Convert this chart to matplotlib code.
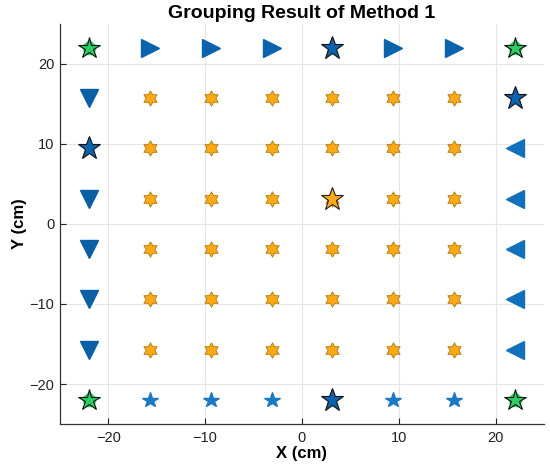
import numpy as np
import matplotlib
matplotlib.use("Agg")
import matplotlib.pyplot as plt
from matplotlib.path import Path

# ---- data ----
grid = [-22.0, -15.71, -9.43, -3.14, 3.14, 9.43, 15.71, 22.0]

corner_x = [-22.0, 22.0, -22.0, 22.0]
corner_y = [22.0, 22.0, -22.0, -22.0]

top_tri_x = [-15.71, -9.43, -3.14, 9.43, 15.71]
top_tri_y = [22.0, 22.0, 22.0, 22.0, 22.0]

left_tri_x = [-22.0, -22.0, -22.0, -22.0, -22.0]
left_tri_y = [15.71, 3.14, -3.14, -9.43, -15.71]

right_tri_x = [22.0, 22.0, 22.0, 22.0, 22.0]
right_tri_y = [9.43, 3.14, -3.14, -9.43, -15.71]

bottom_star_x = [-15.71, -9.43, -3.14, 9.43, 15.71]
bottom_star_y = [-22.0, -22.0, -22.0, -22.0, -22.0]

head_x = [3.14, -22.0, 22.0, 3.14]
head_y = [22.0, 9.43, 15.71, -22.0]

inner_vals = [-15.71, -9.43, -3.14, 3.14, 9.43, 15.71]
center_head_x = [3.14]
center_head_y = [3.14]

title = "Grouping Result of Method 1"
xlabel = "X (cm)"
ylabel = "Y (cm)"
xticks = [-20, -10, 0, 10, 20]
yticks = [-20, -10, 0, 10, 20]

# ---- hexagram marker ----
ang_out = np.deg2rad(90 + 60 * np.arange(6))
ang_in = ang_out + np.deg2rad(30)
r_in = 1 / np.sqrt(3)
verts = []
for ao, ai in zip(ang_out, ang_in):
    verts.append((np.cos(ao), np.sin(ao)))
    verts.append((r_in * np.cos(ai), r_in * np.sin(ai)))
verts.append(verts[0])
codes = [Path.MOVETO] + [Path.LINETO] * (len(verts) - 2) + [Path.CLOSEPOLY]
hexagram = Path(verts, codes)

plt.rcParams['font.family'] = ['Liberation Sans', 'DejaVu Sans']

fig = plt.figure(figsize=(5.5, 4.67), dpi=100)
ax = fig.add_axes([0.109, 0.092, 0.880, 0.857])

ax.set_xlim(-25, 25)
ax.set_ylim(-25, 25)
ax.grid(True, color='#e6e6e6', linewidth=0.8)
ax.set_axisbelow(True)

# interior hexagrams
ix, iy = np.meshgrid(inner_vals, inner_vals)
ax.plot(ix.ravel(), iy.ravel(), linestyle='none', marker=hexagram, markersize=11,
        markerfacecolor='#FDA914', markeredgecolor='#B07A10', markeredgewidth=0.6)

# triangles
ax.plot(top_tri_x, top_tri_y, linestyle='none', marker='>', markersize=12.5,
        color='#0B63AE')
ax.plot(left_tri_x, left_tri_y, linestyle='none', marker='v', markersize=12.5,
        color='#0B5FA5')
ax.plot(right_tri_x, right_tri_y, linestyle='none', marker='<', markersize=12.5,
        color='#1270BA')

# bottom small stars
ax.plot(bottom_star_x, bottom_star_y, linestyle='none', marker='*', markersize=11.5,
        color='#1B79C4')

# corner green
ax.plot(corner_x, corner_y, linestyle='none', marker='p', markersize=11,
        color='#2FCB68')
ax.plot(corner_x, corner_y, linestyle='none', marker='*', markersize=16,
        markerfacecolor='#2FCB68', markeredgecolor='#111111', markeredgewidth=0.8)

# cluster heads
ax.plot(head_x, head_y, linestyle='none', marker='*', markersize=17,
        markerfacecolor='#0B63AE', markeredgecolor='#111111', markeredgewidth=0.8)
ax.plot(center_head_x, center_head_y, linestyle='none', marker='*', markersize=17,
        markerfacecolor='#FDA914', markeredgecolor='#222222', markeredgewidth=0.8)

ax.set_xticks(xticks)
ax.set_yticks(yticks)
ax.set_xticklabels(['\u221220', '\u221210', '0', '10', '20'])
ax.set_yticklabels(['\u221220', '\u221210', '0', '10', '20'])
ax.tick_params(direction='in', length=4, labelsize=10.5, colors='#222222', width=0.8)
ax.tick_params(axis='x', pad=5)
ax.tick_params(axis='y', pad=4)
for s in ['top', 'right']:
    ax.spines[s].set_visible(False)
for s in ['left', 'bottom']:
    ax.spines[s].set_color('#333333')
    ax.spines[s].set_linewidth(0.9)

ax.set_title(title, fontsize=14, fontweight='bold', pad=4)
ax.set_xlabel(xlabel, fontsize=12, fontweight='bold', labelpad=1)
ax.set_ylabel(ylabel, fontsize=12, fontweight='bold', labelpad=2)

fig.savefig('out.png', dpi=100)
